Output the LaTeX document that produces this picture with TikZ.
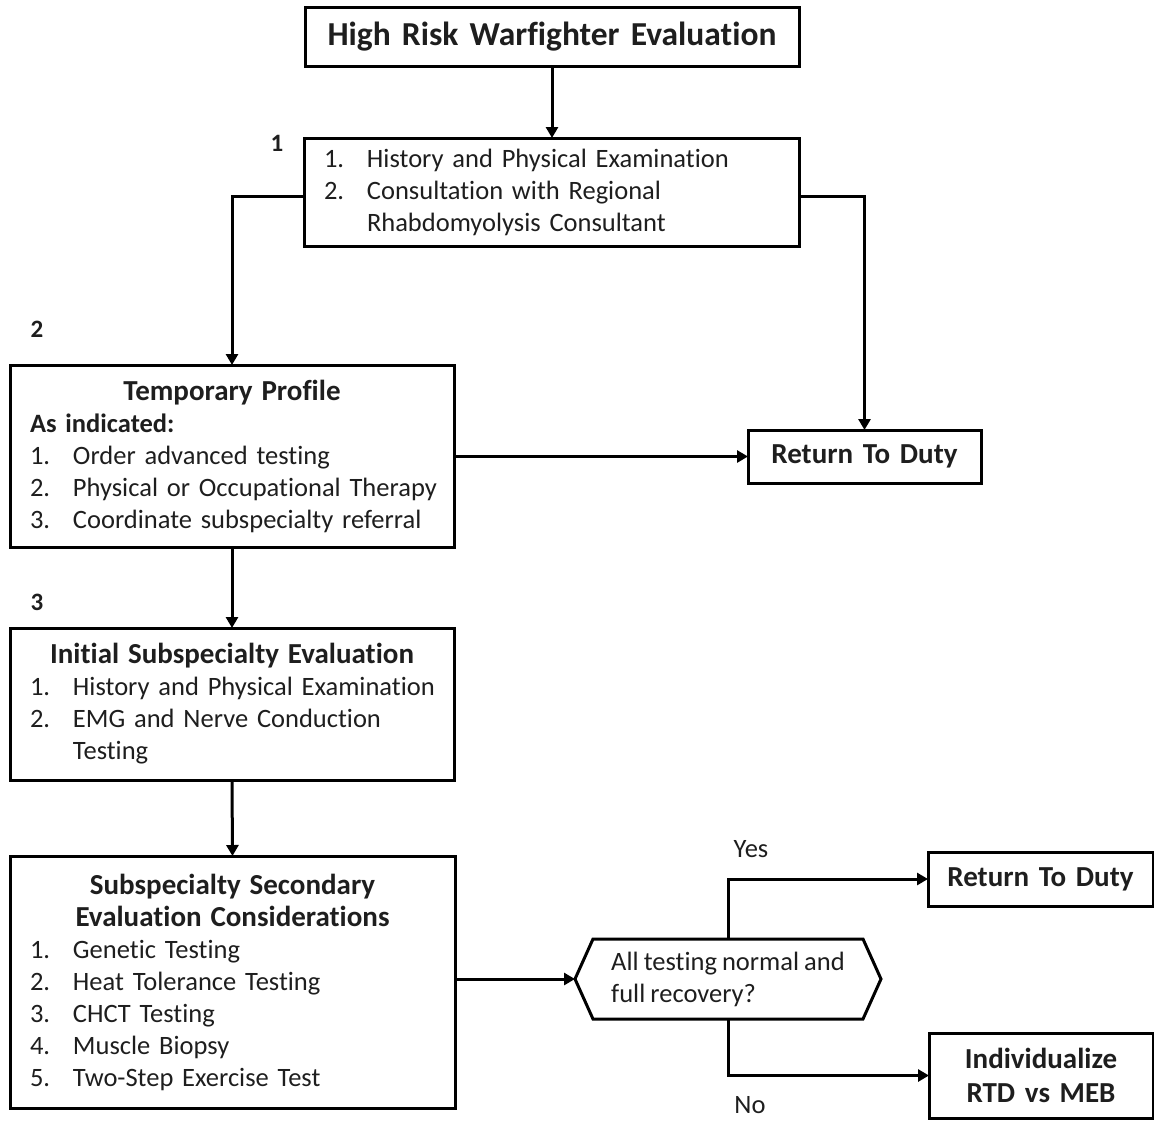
\documentclass[tikz,border=0pt]{standalone}
\usepackage{fontspec}
\setmainfont{Carlito}[Ligatures={NoCommon},WordSpace={0.85}]
\usetikzlibrary{arrows.meta,calc}
\definecolor{txt}{RGB}{30,30,30}
\newcommand\itm[2]{\mbox{\makebox[43pt][l]{#1}#2}}
\newcommand\hdrline[1]{\makebox[\hsize][c]{\fontsize{29}{32}\selectfont\bfseries #1}}
\begin{document}
\begin{tikzpicture}[x=1pt,y=-1pt,
  box/.style={draw, line width=3pt, inner xsep=20pt, inner ysep=0pt, outer sep=0pt,
    anchor=north west, align=left, text=txt, font=\fontsize{26.5}{32}\selectfont},
  endbox/.style={box, inner xsep=0pt, align=center, font=\fontsize{29}{34}\selectfont\bfseries},
  conn/.style={line width=3pt, -{Triangle[length=11pt,width=12pt]}},
  line/.style={line width=3pt},
  lab/.style={text=txt, inner sep=0pt, font=\fontsize{25}{28}\selectfont\bfseries},
  ans/.style={text=txt, inner sep=0pt, font=\fontsize{26.5}{28}\selectfont}]
\useasboundingbox (0,0) rectangle (1154,1120);

\node[box, minimum width=494pt, minimum height=59pt, text width=494pt, inner xsep=0pt,
  align=center, font=\fontsize{33.5}{36}\selectfont\bfseries] (t) at (305,7)
  {High Risk Warfighter Evaluation};

\node[box, minimum width=495pt, minimum height=108pt, text width=455pt] (b2) at (304,138)
  {\itm{1.}{History and Physical Examination}\\
   \itm{2.}{Consultation with Regional}\\
   \itm{}{Rhabdomyolysis Consultant}};

\node[box, minimum width=444pt, minimum height=182pt, text width=404pt] (tp) at (10,365)
  {\hdrline{Temporary Profile}\\
   {\fontsize{26.5}{32}\selectfont\bfseries As indicated:}\\
   \itm{1.}{Order advanced testing}\\
   \itm{2.}{Physical or Occupational Therapy}\\
   \itm{3.}{Coordinate subspecialty referral}};

\node[box, minimum width=444pt, minimum height=152pt, text width=404pt] (ise) at (10,628)
  {\hdrline{Initial Subspecialty Evaluation}\\
   \itm{1.}{History and Physical Examination}\\
   \itm{2.}{EMG and Nerve Conduction}\\
   \itm{}{Testing}};

\node[box, minimum width=445pt, minimum height=252pt, text width=405pt] (sse) at (10,856)
  {\hdrline{Subspecialty Secondary}\\
   \hdrline{Evaluation Considerations}\\
   \itm{1.}{Genetic Testing}\\
   \itm{2.}{Heat Tolerance Testing}\\
   \itm{3.}{CHCT Testing}\\
   \itm{4.}{Muscle Biopsy}\\
   \itm{5.}{Two-Step Exercise Test}};

\node[endbox, minimum width=233pt, minimum height=53pt, text width=233pt] (rtd1) at (748,430)
  {Return To Duty};
\node[endbox, minimum width=225pt, minimum height=54pt, text width=225pt] (rtd2) at (928,852)
  {Return To Duty};
\node[endbox, minimum width=224pt, minimum height=85pt, text width=224pt] (ind) at (929,1033)
  {Individualize\\RTD vs MEB};

\node[minimum width=306pt, minimum height=80pt, inner sep=0pt, outer sep=0pt, align=left,
  text=txt, font=\fontsize{26.5}{32}\selectfont] (q) at (728,979)
  {All testing normal and\\full recovery?};
\draw[line] (q.west) -- ($(q.north west)+(18,0)$) -- ($(q.north east)+(-18,0)$) -- (q.east)
  -- ($(q.south east)+(-18,0)$) -- ($(q.south west)+(18,0)$) -- cycle;

\node[lab] (n1) at (277,143) {1};
\node[lab] (n2) at (37,329) {2};
\node[lab] (n3) at (37,602) {3};
\node[ans] (yes) at (751,849) {Yes};
\node[ans] (no) at (750,1105) {No};

\draw[conn] (t.south) -- (t.south |- b2.north);
\draw[conn] ($(b2.west)+(0,4)$) -| (tp.north);
\draw[conn] ($(b2.east)+(0,4)$) -| (rtd1.north);
\draw[conn] (tp.east |- rtd1.west) -- (rtd1.west);
\draw[conn] (tp.south) -- (ise.north);
\draw[conn] (ise.south) -- (sse.north);
\draw[conn] (sse.east |- q.west) -- (q.west);
\draw[conn] (q.north) |- (rtd2.west);
\draw[conn] (q.south) |- (ind.west);
\end{tikzpicture}
\end{document}
